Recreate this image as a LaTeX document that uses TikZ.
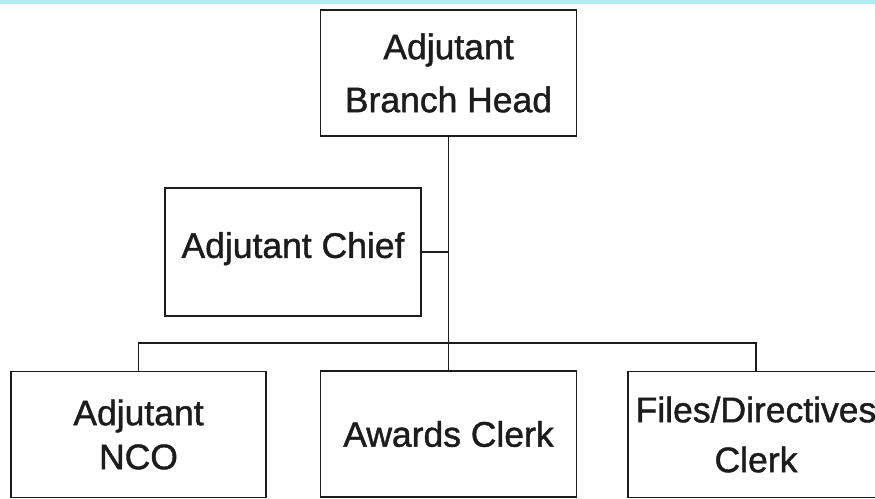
\documentclass[tikz,border=0pt]{standalone}
\usepackage{fontspec}
\setmainfont[FakeBold=1.2]{Liberation Sans}
\definecolor{scanband}{RGB}{175,236,246}
\definecolor{ink}{RGB}{28,28,28}
\begin{document}
\begin{tikzpicture}[x=1pt,y=-1pt,
  orgbox/.style={draw=ink, line width=1.8pt, fill=white, minimum width=256pt,
    minimum height=126pt, inner sep=0pt, align=center, text=ink},
  link/.style={draw=ink, line width=1.8pt},
  lines/.style={font=\fontsize{35.5}{#1}\selectfont}]
  \useasboundingbox (0,0) rectangle (875,498);
  \clip (0,0) rectangle (875,498);
  \fill[white] (0,0) rectangle (875,498);
  \fill[scanband] (0,0) rectangle (875,4);

  % boxes
  \node[orgbox, lines=53] (head) at (448.5,73) {Adjutant\\Branch Head};
  \node[orgbox, lines=40, minimum height=128pt, text depth=14pt] (chief) at (293,252) {Adjutant Chief};
  \node[orgbox, lines=44, minimum width=255pt] (nco) at (138.5,434.5) {Adjutant\\NCO};
  \node[orgbox, lines=40] (awards) at (448.5,434) {Awards Clerk};
  \node[orgbox, lines=50] (files) at (756,434.5) {Files/Directives\\Clerk};

  % connectors
  \coordinate (bus) at (448.5,343);
  \draw[link] (head.south) -- (bus);
  \draw[link] (chief.east) -- (chief.east -| head.south);
  \draw[link] (nco.north) |- (bus) -| (files.north);
  \draw[link] (bus) -- (awards.north);
\end{tikzpicture}
\end{document}
